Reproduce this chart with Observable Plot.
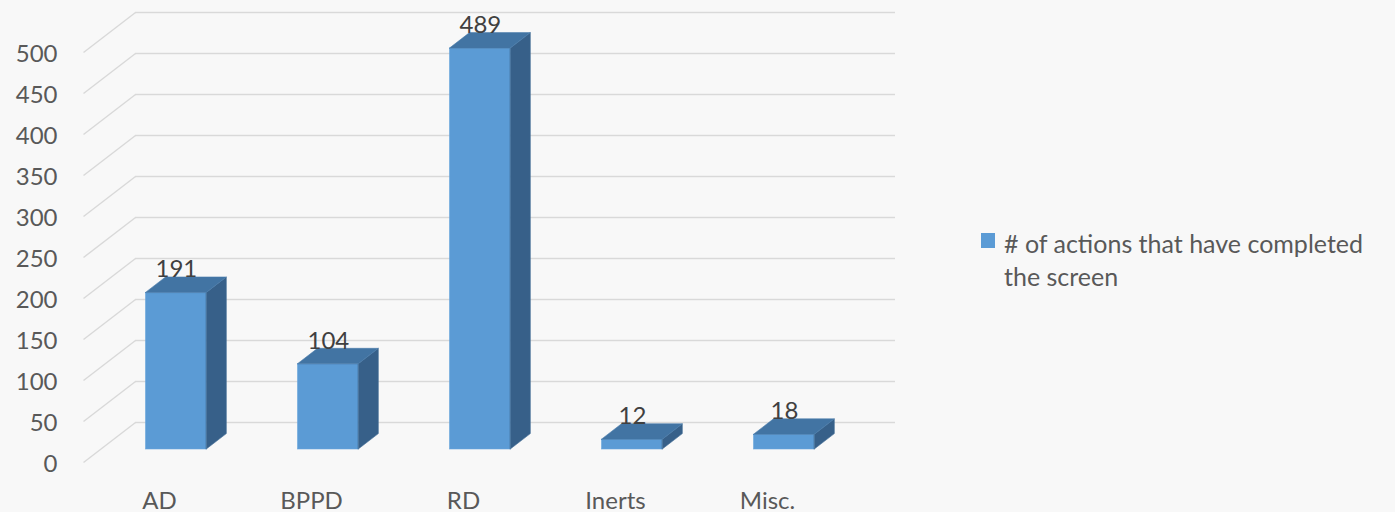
<!DOCTYPE html>
<html>
<head>
<meta charset="utf-8">
<script src="https://cdn.jsdelivr.net/npm/d3@7"></script>
<script src="https://cdn.jsdelivr.net/npm/@observablehq/plot@0.6"></script>
<style>
  html, body { margin: 0; padding: 0; background: #f8f8f8; }
  #wrap { position: relative; width: 1395px; height: 512px; }
  #legend { position: absolute; left: 981px; top: 227px; width: 414px; font-family: Lato, sans-serif; font-size: 25px; line-height: 33px; color: #595959; }
  #legend .sw { position: absolute; left: 0; top: 6px; width: 14px; height: 15px; background: #5b9bd5; }
  #legend .tx { margin-left: 23px; width: 385px; }
</style>
</head>
<body>
<div id="wrap"><div id="chart"></div><div id="legend"><div class="sw"></div><div class="tx"></div></div></div>
<script>
const categories = ["AD", "BPPD", "RD", "Inerts", "Misc."];
const values = [191, 104, 489, 12, 18];
const yTicks = [0, 50, 100, 150, 200, 250, 300, 350, 400, 450, 500];
const seriesName = "# of actions that have completed the screen";

const W = 1395, H = 512, mL = 83, mR = 552, mT = 52, mB = 50;
const yMax = 500;
const pxPerX = (W - mL - mR) / categories.length;
const pxPerY = (H - mT - mB) / yMax;
const depthX = 52 / pxPerX, depthY = 40 / pxPerY;
const f0 = 0.325, f1 = 0.71, barW = 0.4;

const rows = categories.map((c, i) => {
  const x1 = i + 0.5 - barW / 2 + f0 * depthX;
  const x2 = x1 + barW;
  const sx = (f1 - f0) * depthX;
  return {c, i, v: values[i], x1, x2, sx, y0: f0 * depthY, yb: f1 * depthY};
});
const sidePts = rows.flatMap(r => [
  {c: r.c, x: r.x2, y1: r.y0, y2: r.v + r.y0},
  {c: r.c, x: r.x2 + r.sx, y1: r.yb, y2: r.v + r.yb}
]);
const topPts = rows.flatMap(r => [
  {c: r.c, y: r.v + r.y0, x1: r.x1, x2: r.x2},
  {c: r.c, y: r.v + r.yb, x1: r.x1 + r.sx, x2: r.x2 + r.sx}
]);

const grid = "#d9d9d9";
const chart = Plot.plot({
  width: W, height: H,
  marginLeft: mL, marginRight: mR, marginTop: mT, marginBottom: mB,
  style: {background: "#f8f8f8", fontFamily: "Lato, sans-serif", fontSize: "24px", overflow: "visible"},
  x: {type: "linear", domain: [0, categories.length], axis: null},
  y: {type: "linear", domain: [0, yMax], axis: null},
  marks: [
    Plot.link(yTicks, {x1: 0, y1: d => d, x2: depthX, y2: d => d + depthY, stroke: grid, strokeWidth: 1.4}),
    Plot.ruleY(yTicks, {y: d => d + depthY, x1: depthX, x2: categories.length + depthX, stroke: grid, strokeWidth: 1.4}),
    Plot.rect(rows, {x1: "x1", x2: "x2", y1: "y0", y2: d => d.v + d.y0, fill: "#5b9bd5", stroke: "#6aa6dc", strokeWidth: 0.6}),
    Plot.areaY(sidePts, {x: "x", y1: "y1", y2: "y2", z: "c", fill: "#376089", stroke: "#3f6c96", strokeWidth: 0.6}),
    Plot.areaX(topPts, {y: "y", x1: "x1", x2: "x2", z: "c", fill: "#4274a3", stroke: "#4a7cab", strokeWidth: 0.6}),
    Plot.text(yTicks, {x: 0, y: d => d, text: d => String(d), textAnchor: "end", dx: -26, dy: 2, fill: "#595959"}),
    Plot.text(rows, {x: d => d.i + 0.5, y: 0, text: "c", dy: 39, fill: "#595959"}),
    Plot.text(rows, {x: d => d.i + 0.5 + f0 * depthX, y: d => d.v + d.yb, text: d => String(d.v), lineAnchor: "bottom", dy: 0, fill: "#404040"})
  ]
});
document.getElementById("chart").appendChild(chart);
document.querySelector("#legend .tx").textContent = seriesName;
</script>
</body>
</html>
